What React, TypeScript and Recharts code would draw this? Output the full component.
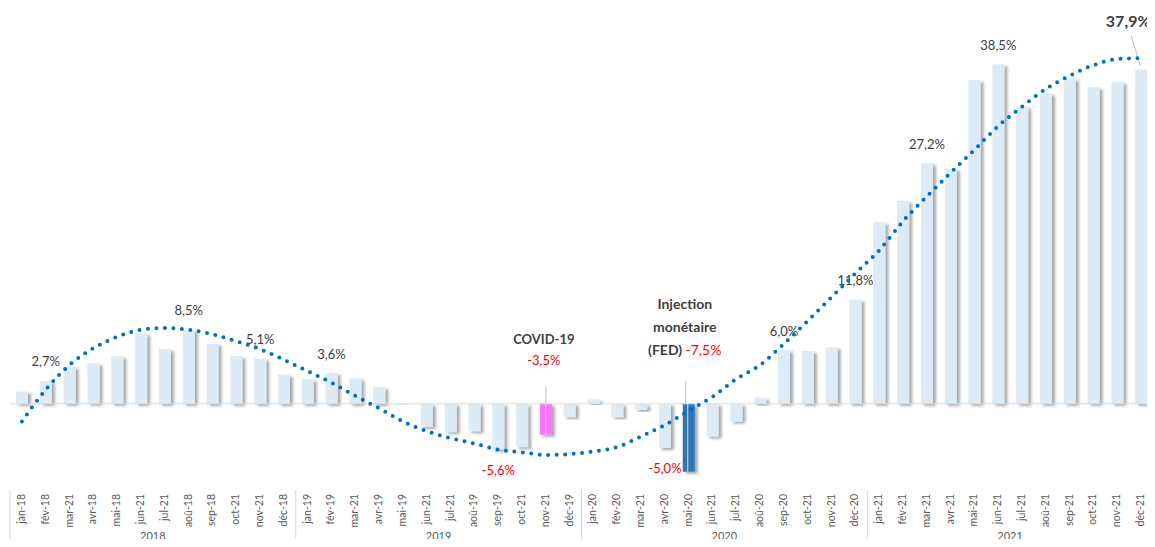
import { Bar, ComposedChart, Line, ReferenceLine, XAxis, YAxis } from "recharts";

const years = ["2018", "2019", "2020", "2021"];

const monthLabels = [
  "jan-18", "fév-18", "mar-21", "avr-18", "mai-18", "jun-21", "jul-21", "aoû-18", "sep-18", "oct-21", "nov-21", "déc-18",
  "jan-19", "fév-19", "mar-21", "avr-19", "mai-19", "jun-21", "jul-21", "aoû-19", "sep-19", "oct-21", "nov-21", "déc-19",
  "jan-20", "fév-20", "mar-21", "avr-20", "mai-20", "jun-21", "jul-21", "aoû-20", "sep-20", "oct-21", "nov-21", "déc-20",
  "jan-21", "fév-21", "mar-21", "avr-21", "mai-21", "jun-21", "jul-21", "aoû-21", "sep-21", "oct-21", "nov-21", "déc-21",
];

// monthly growth (%)
const growth = [
  1.4, 2.6, 4.2, 4.6, 5.4, 8.0, 6.2, 8.4, 6.8, 5.4, 5.1, 3.3,
  2.8, 3.5, 2.9, 1.9, -0.1, -2.6, -3.2, -3.1, -5.2, -4.9, -3.5, -1.5,
  0.5, -1.5, -0.7, -5.0, -7.7, -3.7, -2.0, 0.7, 6.1, 6.0, 6.4, 11.8,
  20.6, 23.0, 27.3, 26.7, 36.7, 38.5, 33.7, 35.2, 36.9, 35.9, 36.5, 37.9,
];

// dotted trend curve, read month by month
const trend = [
  -2.0, 1.6, 4.4, 6.3, 7.6, 8.4, 8.6, 8.4, 7.9, 7.1, 6.2, 5.0,
  3.7, 2.4, 0.9, -0.5, -2.0, -3.1, -3.9, -4.5, -5.2, -5.5, -5.8, -5.7,
  -5.4, -4.9, -3.7, -2.4, -0.8, 0.8, 2.8, 4.4, 6.8, 9.4, 12.1, 14.8,
  17.4, 20.7, 23.5, 26.2, 28.8, 31.5, 33.7, 35.7, 37.2, 38.4, 39.1, 39.2,
];

const pointLabels = [
  "", "2,7%", "", "", "", "", "", "8,5%", "", "", "5,1%", "",
  "", "3,6%", "", "", "", "", "", "", "-5,6%", "", "", "",
  "", "", "", "-5,0%", "", "", "", "", "6,0%", "", "", "11,8%",
  "", "", "27,2%", "", "", "38,5%", "", "", "", "", "", "",
];

const covidIndex = 22;
const fedIndex = 28;
const lastIndex = 47;

const data = growth.map((value, i) => ({
  key: `m${i}`,
  idx: i,
  growth: value,
  trend: trend[i],
}));

const CHART_W = 1155;
const CHART_H = 547;
const MARGIN = { top: 7, right: 2, bottom: 0, left: 10 };
const BAND = (CHART_W - MARGIN.left - MARGIN.right) / growth.length;

const labelColor = "#404040";
const red = "#FF0000";

function GrowthBar(props: any) {
  const { x, y, width, height, payload } = props;
  const i: number = payload.idx;
  const top = Math.min(y, y + height);
  const bottom = Math.max(y, y + height);
  const positive = growth[i] >= 0;
  const zeroY = positive ? bottom : top;
  const cx = x + width / 2;
  const fill = i === covidIndex ? "#FF73FF" : i === fedIndex ? "#2E75B6" : "#DDEBF7";
  const text = pointLabels[i];

  return (
    <g>
      <rect
        x={x}
        y={top}
        width={width}
        height={Math.max(bottom - top, 0.5)}
        fill={fill}
        filter="url(#barShadow)"
      />
      {text && positive && (
        <text x={cx} y={top - 19} dy="0.35em" textAnchor="middle" fontSize={13} fill={labelColor}>
          {text}
        </text>
      )}
      {text && !positive && (
        <text x={cx} y={bottom + 21} dy="0.35em" textAnchor="middle" fontSize={13} fill={red}>
          {text}
        </text>
      )}
      {i === covidIndex && (
        <g>
          <line x1={cx} x2={cx} y1={zeroY - 17} y2={zeroY} stroke="#BFBFBF" />
          <line x1={cx} x2={cx} y1={top} y2={bottom} stroke="#ffffff" strokeOpacity={0.5} />
          <text x={cx - 2} y={zeroY - 64} dy="0.35em" textAnchor="middle" fontSize={13} fontWeight="bold" fill={labelColor}>
            COVID-19
          </text>
          <text x={cx - 2} y={zeroY - 43} dy="0.35em" textAnchor="middle" fontSize={13} fill={red}>
            -3,5%
          </text>
        </g>
      )}
      {i === fedIndex && (
        <g>
          <line x1={cx - 3} x2={cx - 3} y1={zeroY - 23} y2={zeroY} stroke="#BFBFBF" />
          <line x1={cx - 1} x2={cx - 1} y1={top} y2={bottom} stroke="#ffffff" strokeOpacity={0.8} />
          <text x={cx - 4} y={zeroY - 100} dy="0.35em" textAnchor="middle" fontSize={14} fontWeight="bold" fill={labelColor}>
            Injection
          </text>
          <text x={cx - 4} y={zeroY - 77} dy="0.35em" textAnchor="middle" fontSize={14} fontWeight="bold" fill={labelColor}>
            monétaire
          </text>
          <text x={cx - 4} y={zeroY - 54} dy="0.35em" textAnchor="middle" fontSize={14} fill={labelColor}>
            <tspan fontWeight="bold">(FED) </tspan>
            <tspan fill={red}>-7,5%</tspan>
          </text>
        </g>
      )}
      {i === lastIndex && (
        <g>
          <line x1={cx - 10} x2={cx - 1} y1={top - 34} y2={top - 4} stroke="#BFBFBF" />
          <text x={cx - 13} y={top - 48} dy="0.35em" textAnchor="middle" fontSize={16} fontWeight="bold" fill={labelColor}>
            37,9%
          </text>
        </g>
      )}
    </g>
  );
}

function MonthTick(props: any) {
  const { x, y, payload } = props;
  const i: number = payload.index;
  return (
    <g>
      <text
        transform={`translate(${x + 3},${y + 2}) rotate(-90)`}
        textAnchor="end"
        fontSize={10.5}
        fill="#595959"
      >
        {monthLabels[i]}
      </text>
      {i % 12 === 0 && (
        <line x1={x - BAND / 2} x2={x - BAND / 2} y1={y - 2} y2={CHART_H} stroke="#D9D9D9" />
      )}
      {i === growth.length - 1 && (
        <line x1={x + BAND / 2} x2={x + BAND / 2} y1={y - 2} y2={CHART_H} stroke="#D9D9D9" />
      )}
      {i % 12 === 6 && (
        <text x={x - BAND / 2} y={CHART_H - 7} textAnchor="middle" fontSize={11} fill="#595959">
          {years[Math.floor(i / 12)]}
        </text>
      )}
    </g>
  );
}

export default function App() {
  return (
    <div style={{ margin: -8, width: CHART_W, height: CHART_H, background: "#fff", fontFamily: "Lato, 'Noto Sans', sans-serif" }}>
      <ComposedChart width={CHART_W} height={CHART_H} data={data} margin={MARGIN}>
        <defs>
          <filter id="barShadow" x="-40%" y="-10%" width="200%" height="130%">
            <feDropShadow dx={3} dy={2} stdDeviation={1.6} floodColor="#000000" floodOpacity={0.35} />
          </filter>
        </defs>
        <XAxis
          dataKey="key"
          interval={0}
          tickLine={false}
          axisLine={false}
          tickSize={0}
          tickMargin={0}
          height={55}
          tick={<MonthTick />}
        />
        <YAxis hide domain={[-10, 45]} />
        <ReferenceLine y={0} stroke="#D9D9D9" />
        <Bar dataKey="growth" barSize={12} shape={<GrowthBar />} isAnimationActive={false} />
        <Line
          dataKey="trend"
          type="monotone"
          stroke="#0070C0"
          strokeWidth={4}
          strokeDasharray="0 8.5"
          strokeLinecap="round"
          dot={false}
          activeDot={false}
          isAnimationActive={false}
        />
      </ComposedChart>
    </div>
  );
}
